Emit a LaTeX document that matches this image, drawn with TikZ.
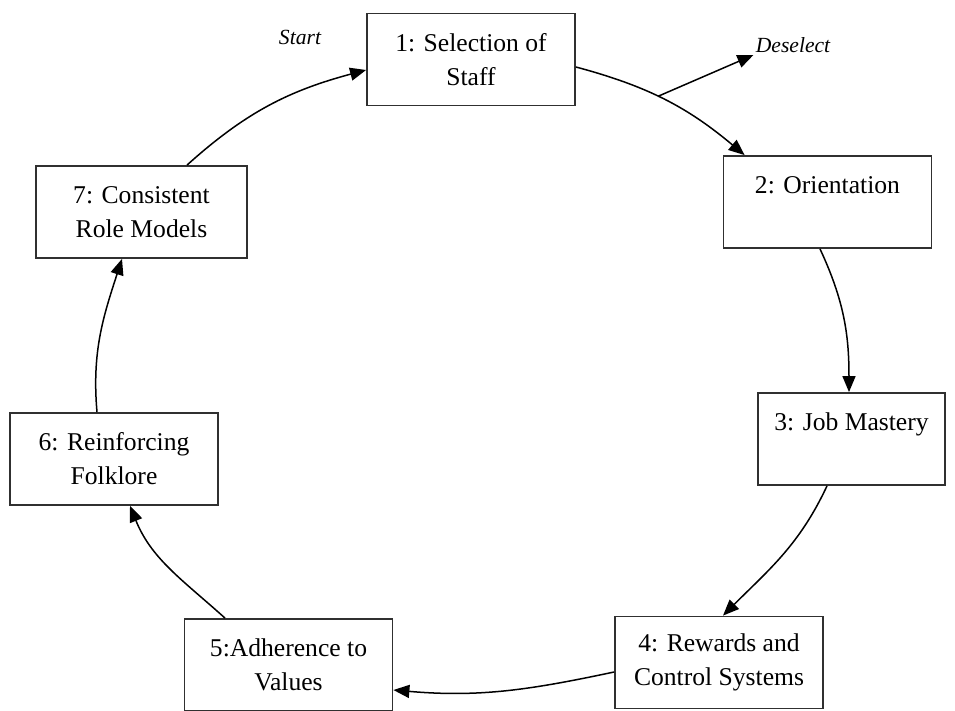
\documentclass[tikz,border=0pt]{standalone}
\usepackage{fontspec}
\setmainfont{Liberation Serif}
\usepackage{tikz}
\usetikzlibrary{
  arrows.meta, positioning, calc
}
\definecolor{colLine}{HTML}{303030}
\tikzset{
  stage/.style={
    draw=colLine, line width=0.9pt,
    minimum width=104pt, minimum height=46pt,
    align=center, inner sep=2pt,
    font=\fontsize{12.8}{17}\selectfont
  },
  tag/.style={
    inner sep=1pt, font=\fontsize{10.8}{13}\selectfont\itshape
  },
  cyc/.style={
    -{Triangle[length=8pt,width=6.5pt]},
    line width=0.75pt, draw=black
  }
}
\begin{document}
\begin{tikzpicture}[x=0.5pt, y=-0.5pt]
        \useasboundingbox (0,0) rectangle (955,711);
        % stages of the cycle
        \node[stage] (sel) at (471,59.5)   {1: Selection of\\Staff};
        \node[stage] (ori) at (827.5,202)  {2: Orientation\\\mbox{}};
        \node[stage, minimum width=93.5pt] (job) at (851.5,439) {3: Job Mastery\\\mbox{}};
        \node[stage] (rew) at (719,662.5)  {4: Rewards and\\Control Systems};
        \node[stage] (adh) at (288.5,665)  {5:Adherence to\\Values};
        \node[stage] (flk) at (114,459)    {6: Reinforcing\\Folklore};
        \node[stage, minimum width=105.5pt] (rol) at (141.5,212) {7: Consistent\\Role Models};
        \node[tag] (start) at (300,37) {Start};
        \node[tag] (dsl)   at (793,45) {Deselect};
        % connectors
        \draw[cyc] ($(sel.east)+(0,7.5)$) to[out=-15, in=140]
              coordinate[pos=0.45] (brk) ($(ori.north west)+(22,0)$);
        \draw[cyc] (brk) -- (dsl.south west);
        \draw[cyc] ($(ori.south)+(-7.5,0)$) to[out=-65, in=90] ($(job.north)+(-2.5,0)$);
        \draw[cyc] ($(job.south)+(-24.5,0)$) to[out=-115, in=45] ($(rew.north)+(4,0)$);
        \draw[cyc] ($(rew.west)+(0,9.5)$) to[out=192, in=-5] ($(adh.east)+(0,25)$);
        \draw[cyc] ($(adh.north)+(-63.5,0)$) to[out=138, in=-68] ($(flk.south)+(16,0)$);
        \draw[cyc] ($(flk.north)+(-17,0)$) to[out=95, in=-108] ($(rol.south)+(-19.5,0)$);
        \draw[cyc] ($(rol.north)+(45.5,0)$) to[out=42, in=195] ($(sel.west)+(0,10.5)$);
      \end{tikzpicture}
\end{document}
